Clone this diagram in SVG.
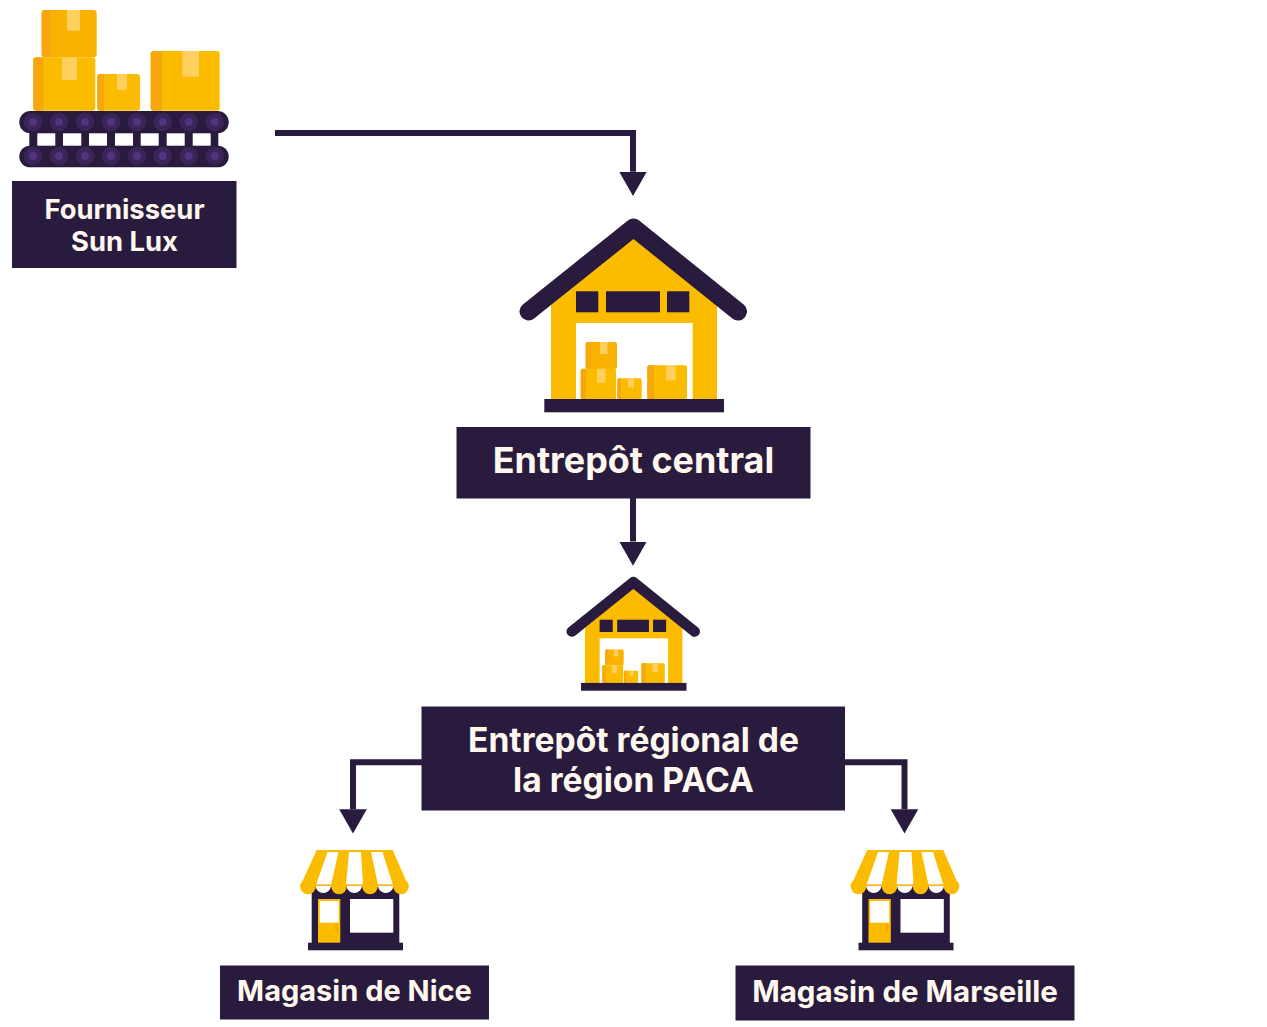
<svg xmlns="http://www.w3.org/2000/svg" xmlns:xlink="http://www.w3.org/1999/xlink" width="1267" height="1027" viewBox="0 0 1267 1027">
<style>
.ink{fill:#291b3d}
.label{font-family:Inter,"Liberation Sans",sans-serif;font-weight:700;fill:#fff8ee;text-anchor:middle}
.edge{fill:none;stroke:#291b3d;stroke-width:6}
.y{fill:#fbbc00}
.y2{fill:#fab200}
.shade{fill:#f7a60c}
.tape{fill:#ffd060}
.w{fill:#fff}
.roller{fill:#3a2458}
.hub{fill:#4f3580}
</style>
<defs>
<marker id="head" markerUnits="userSpaceOnUse" markerWidth="24.300" markerHeight="27.600" refX="0" refY="13.800" orient="auto" viewBox="0 0 24.300 27.600">
<path d="M0 0L24.300 13.800L0 27.600Z" fill="#291b3d"/>
</marker>
<g id="house">
<path class="y" d="M551 305L633.500 237L717 305V400H551Z"/>
<path d="M528.500 311.500L633.500 227.500L738 311.500" fill="none" stroke="#291b3d" stroke-width="18" stroke-linecap="round" stroke-linejoin="round"/>
<rect class="ink" x="576" y="291.300" width="22.300" height="21"/>
<rect class="ink" x="606" y="291.300" width="54" height="21"/>
<rect class="ink" x="667" y="291.300" width="22.300" height="21"/>
<rect class="w" x="576" y="323" width="116.700" height="76.500"/>
<rect class="y2" x="585.700" y="342" width="31.300" height="27" rx="2"/>
<path class="shade" d="M587.700 342H591V369H587.700Q585.700 369 585.700 367V344Q585.700 342 587.700 342Z"/>
<rect class="tape" x="600" y="342" width="7.500" height="12"/>
<rect class="y" x="580.700" y="368.700" width="35.300" height="30.800" rx="2"/>
<path class="shade" d="M582.700 368.700H586V399.500H582.700Q580.700 399.500 580.700 397.500V370.700Q580.700 368.700 582.700 368.700Z"/>
<rect class="tape" x="597" y="368.700" width="8.500" height="14"/>
<rect class="y" x="617.300" y="378.300" width="24.400" height="21.200" rx="2"/>
<path class="shade" d="M619.300 378.300H621V399.500H619.300Q617.300 399.500 617.300 397.500V380.300Q617.300 378.300 619.300 378.300Z"/>
<rect class="tape" x="628" y="378.300" width="6" height="9"/>
<rect class="y" x="647.300" y="365.300" width="39.700" height="34.200" rx="2"/>
<path class="shade" d="M649.300 365.300H654V399.500H649.300Q647.300 399.500 647.300 397.500V367.300Q647.300 365.300 649.300 365.300Z"/>
<rect class="tape" x="666" y="365.300" width="9.500" height="15"/>
<rect class="ink" x="544.300" y="399" width="179.700" height="13.300"/>
</g>
<g id="shop">
<rect class="ink" x="311.700" y="885" width="87.600" height="58"/>
<rect class="ink" x="308" y="942.700" width="95" height="7.600"/>
<rect class="y" x="318" y="899" width="22.300" height="43.700"/>
<rect class="w" x="319.700" y="901" width="19" height="21.700"/>
<rect class="shade" x="335" y="924.300" width="2.700" height="6.400"/>
<rect class="w" x="350" y="899" width="43.300" height="33.700"/>
<path class="y" d="M316.700 850H392.700L408.700 886.700H300Z"/>
<path class="w" d="M327.500 852H338.500L331 885H316ZM349 852H361L363 885H346ZM371 852H382.500L393 885H378Z"/>
<rect class="shade" x="312" y="884.500" width="86" height="1"/>
<g class="w">
<path d="M315.500 886H331A7.800 7.800 0 0 1 315.500 886ZM346.500 886H362A7.800 7.800 0 0 1 346.500 886ZM378 886H393.500A7.800 7.800 0 0 1 378 886Z"/>
</g>
<g class="y">
<circle cx="308" cy="886.500" r="7.800"/><circle cx="339" cy="886.500" r="7.800"/><circle cx="370" cy="886.500" r="7.800"/><circle cx="401" cy="886.500" r="7.800"/>
</g>
</g>
</defs>

<g id="connectors">
<path class="edge" d="M275 133H633V171.700" marker-end="url(#head)"/>
<path class="edge" d="M633 498V541.500" marker-end="url(#head)"/>
<path class="edge" d="M422 762.300H353V809.300" marker-end="url(#head)"/>
<path class="edge" d="M845 762.300H904.500V809.300" marker-end="url(#head)"/>
</g>

<g id="fournisseur">
<!-- conveyor belt -->
<rect class="ink" x="29.300" y="130" width="189" height="20"/>
<rect class="ink" x="19.300" y="111" width="209.400" height="22.300" rx="11.100"/>
<rect class="ink" x="19.300" y="145.700" width="209.400" height="21.600" rx="10.800"/>
<g class="w">
<rect x="37.300" y="133.300" width="18" height="12.400"/><rect x="63" y="133.300" width="18.300" height="12.400"/><rect x="89" y="133.300" width="18" height="12.400"/><rect x="115" y="133.300" width="18" height="12.400"/><rect x="140.700" y="133.300" width="18" height="12.400"/><rect x="166.700" y="133.300" width="18" height="12.400"/><rect x="192.700" y="133.300" width="18" height="12.400"/>
</g>
<g class="roller">
<circle cx="33" cy="122" r="9.300"/><circle cx="59" cy="122" r="9.300"/><circle cx="85" cy="122" r="9.300"/><circle cx="111" cy="122" r="9.300"/><circle cx="137" cy="122" r="9.300"/><circle cx="162.700" cy="122" r="9.300"/><circle cx="188.700" cy="122" r="9.300"/><circle cx="214.700" cy="122" r="9.300"/>
<circle cx="33" cy="156" r="9.300"/><circle cx="59" cy="156" r="9.300"/><circle cx="85" cy="156" r="9.300"/><circle cx="111" cy="156" r="9.300"/><circle cx="137" cy="156" r="9.300"/><circle cx="162.700" cy="156" r="9.300"/><circle cx="188.700" cy="156" r="9.300"/><circle cx="214.700" cy="156" r="9.300"/>
</g>
<g class="hub">
<circle cx="33" cy="122" r="4"/><circle cx="59" cy="122" r="4"/><circle cx="85" cy="122" r="4"/><circle cx="111" cy="122" r="4"/><circle cx="137" cy="122" r="4"/><circle cx="162.700" cy="122" r="4"/><circle cx="188.700" cy="122" r="4"/><circle cx="214.700" cy="122" r="4"/>
<circle cx="33" cy="156" r="4"/><circle cx="59" cy="156" r="4"/><circle cx="85" cy="156" r="4"/><circle cx="111" cy="156" r="4"/><circle cx="137" cy="156" r="4"/><circle cx="162.700" cy="156" r="4"/><circle cx="188.700" cy="156" r="4"/><circle cx="214.700" cy="156" r="4"/>
</g>
<!-- parcels on the belt -->
<rect class="y2" x="41.700" y="10" width="55" height="47.300" rx="3"/>
<path class="shade" d="M44.700 10H50V57.300H44.700Q41.700 57.300 41.700 54.300V13Q41.700 10 44.700 10Z"/>
<rect class="tape" x="67" y="10" width="13" height="20.700"/>
<rect class="y" x="33.300" y="57.300" width="62" height="53.400" rx="3"/>
<path class="shade" d="M36.300 57.300H43.300V110.700H36.300Q33.300 110.700 33.300 107.700V60.300Q33.300 57.300 36.300 57.300Z"/>
<rect class="tape" x="62" y="57.300" width="15" height="22.700"/>
<rect class="y" x="97.300" y="74" width="42.700" height="36.700" rx="3"/>
<path class="shade" d="M100.300 74H104V110.700H100.300Q97.300 110.700 97.300 107.700V77Q97.300 74 100.300 74Z"/>
<rect class="tape" x="117" y="74" width="10" height="15.700"/>
<rect class="y" x="150.700" y="51" width="69" height="59.700" rx="3"/>
<path class="shade" d="M153.700 51H162V110.700H153.700Q150.700 110.700 150.700 107.700V54Q150.700 51 153.700 51Z"/>
<rect class="tape" x="182.300" y="51" width="16.700" height="25.700"/>
<rect class="ink" x="12" y="181" width="224.500" height="87"/>
<text class="label" font-size="27.400" x="124.500" y="219">Fournisseur</text>
<text class="label" font-size="27.400" x="124.500" y="251">Sun Lux</text>
</g>

<g id="entrepot-central">
<use xlink:href="#house" href="#house"/>
<rect class="ink" x="456.500" y="427" width="354" height="71.500"/>
<text class="label" font-size="35.900" x="633.500" y="473">Entrepôt central</text>
</g>

<g id="entrepot-regional">
<use xlink:href="#house" href="#house" transform="translate(261.500 448.700) scale(.587)"/>
<rect class="ink" x="421.500" y="706.500" width="423.500" height="104"/>
<text class="label" font-size="33.600" x="633.500" y="752">Entrepôt régional de</text>
<text class="label" font-size="33.600" x="633.500" y="792">la région PACA</text>
</g>

<g id="magasin-nice">
<use xlink:href="#shop" href="#shop"/>
<rect class="ink" x="220" y="965.500" width="269" height="54"/>
<text class="label" font-size="29" x="354.500" y="1001">Magasin de Nice</text>
</g>

<g id="magasin-marseille">
<use xlink:href="#shop" href="#shop" transform="translate(550.500 0)"/>
<rect class="ink" x="735.500" y="965.500" width="339" height="55"/>
<text class="label" font-size="29.500" x="905" y="1002">Magasin de Marseille</text>
</g>
</svg>
